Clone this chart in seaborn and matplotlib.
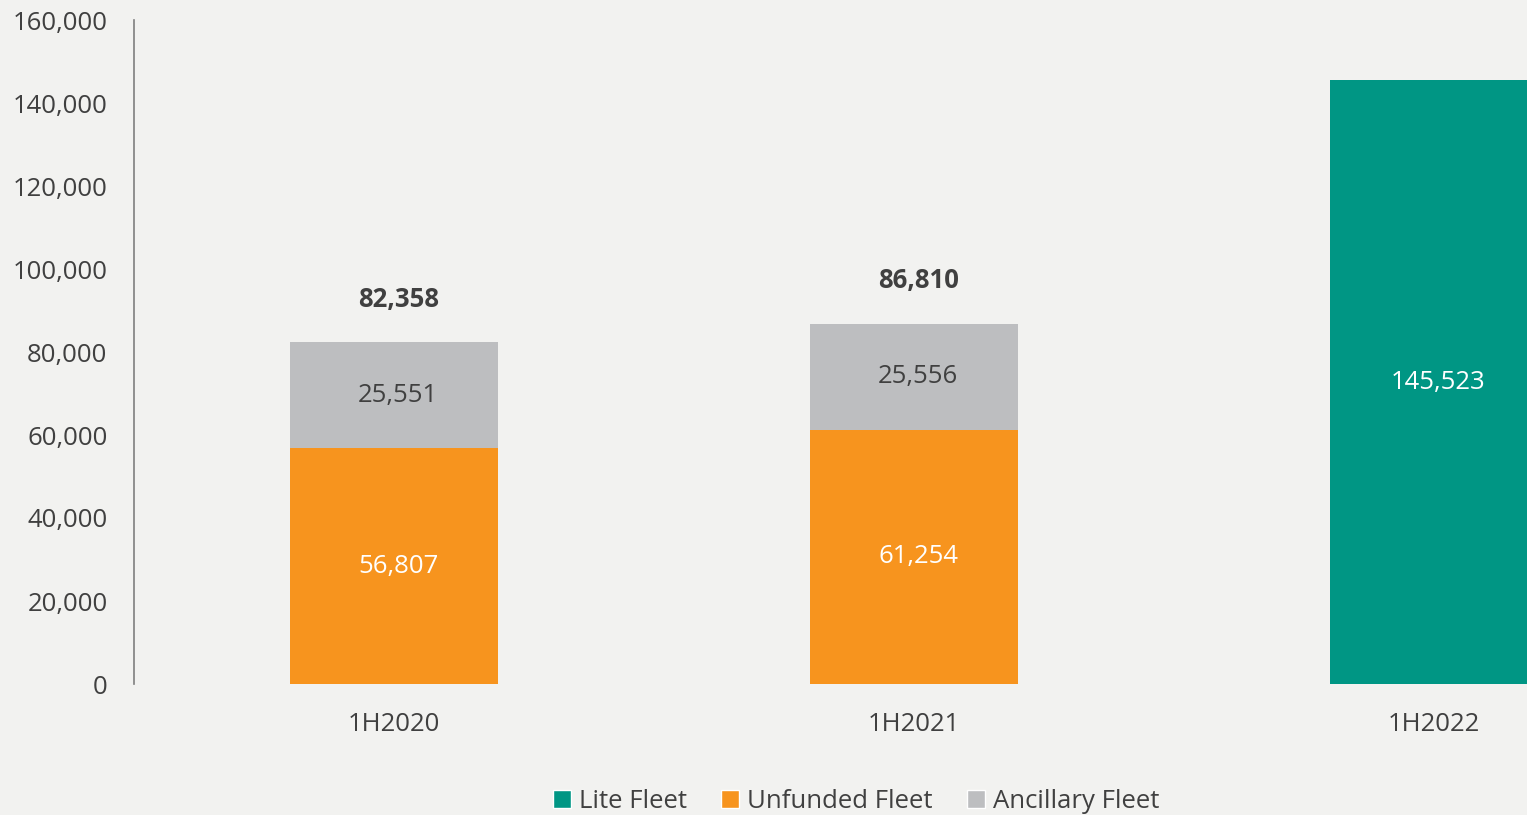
import matplotlib
matplotlib.use("Agg")
import matplotlib.pyplot as plt
import seaborn as sns
import pandas as pd
from matplotlib.patches import Patch
from matplotlib.ticker import FuncFormatter

periods = ["1H2020", "1H2021", "1H2022"]
unfunded = [56807, 61254, 0]
ancillary = [25551, 25556, 0]
lite = [0, 0, 145523]
totals = [82358, 86810, 145523]

BG = "#F2F2F0"
TEAL = "#009684"
ORANGE = "#F7941E"
GRAY = "#BDBEC0"
TXT = "#404040"
FS = 18.5

sns.set_theme(style="white")
plt.rcParams['font.family'] = ['Open Sans', 'DejaVu Sans']

df = pd.DataFrame({"period": periods, "unfunded": unfunded,
                   "ancillary": ancillary, "lite": lite, "total": totals})
df["stack"] = df["unfunded"] + df["ancillary"]

fig = plt.figure(figsize=(15.27, 8.15), dpi=100, facecolor=BG)
ax = fig.add_axes([134/1527, (815-684)/815, 1 - 134/1527, (684-20)/815])
ax.set_facecolor(BG)

sns.barplot(data=df, x="period", y="stack", color=GRAY, width=0.4,
            saturation=1, ax=ax, linewidth=0)
sns.barplot(data=df, x="period", y="unfunded", color=ORANGE, width=0.4,
            saturation=1, ax=ax, linewidth=0)
sns.barplot(data=df, x="period", y="lite", color=TEAL, width=0.4,
            saturation=1, ax=ax, linewidth=0)

ax.set_xlim(-0.5, 2.179)
ax.set_ylim(0, 160000)
ax.set_yticks(range(0, 160001, 20000))
ax.yaxis.set_major_formatter(FuncFormatter(lambda v, p: f"{int(v):,}"))
ax.tick_params(axis="y", labelsize=FS, colors=TXT, length=0, pad=19)
ax.tick_params(axis="x", labelsize=FS, colors=TXT, length=0, pad=20)
ax.set_xlabel("")
ax.set_ylabel("")
for s in ["top", "right", "bottom"]:
    ax.spines[s].set_visible(False)
ax.spines["left"].set_color("#7F7F7F")
ax.spines["left"].set_linewidth(1.2)

dx = 0.008
for i in range(len(periods)):
    if unfunded[i] > 0:
        ax.text(i + dx, unfunded[i] / 2, f"{unfunded[i]:,}", ha="center", va="center",
                color="white", fontsize=FS)
    if ancillary[i] > 0:
        ax.text(i + dx, unfunded[i] + ancillary[i] / 2, f"{ancillary[i]:,}", ha="center",
                va="center", color=TXT, fontsize=FS)
        ax.text(i + dx, totals[i] + 10300, f"{totals[i]:,}", ha="center", va="center",
                color=TXT, fontsize=FS, fontweight="bold")
    if lite[i] > 0:
        ax.text(i + dx, lite[i] / 2, f"{lite[i]:,}", ha="center", va="center",
                color="white", fontsize=FS)

handles = [Patch(facecolor=TEAL, label="Lite Fleet"),
           Patch(facecolor=ORANGE, label="Unfunded Fleet"),
           Patch(facecolor=GRAY, label="Ancillary Fleet")]
leg = fig.legend(handles=handles, loc="center", bbox_to_anchor=(856/1527, 1 - 801/815),
                 ncol=3, frameon=False, fontsize=FS, handlelength=0.7, handleheight=0.7,
                 handletextpad=0.3, columnspacing=1.35)
for t in leg.get_texts():
    t.set_color(TXT)

fig.savefig("out.png", dpi=100, facecolor=BG)
